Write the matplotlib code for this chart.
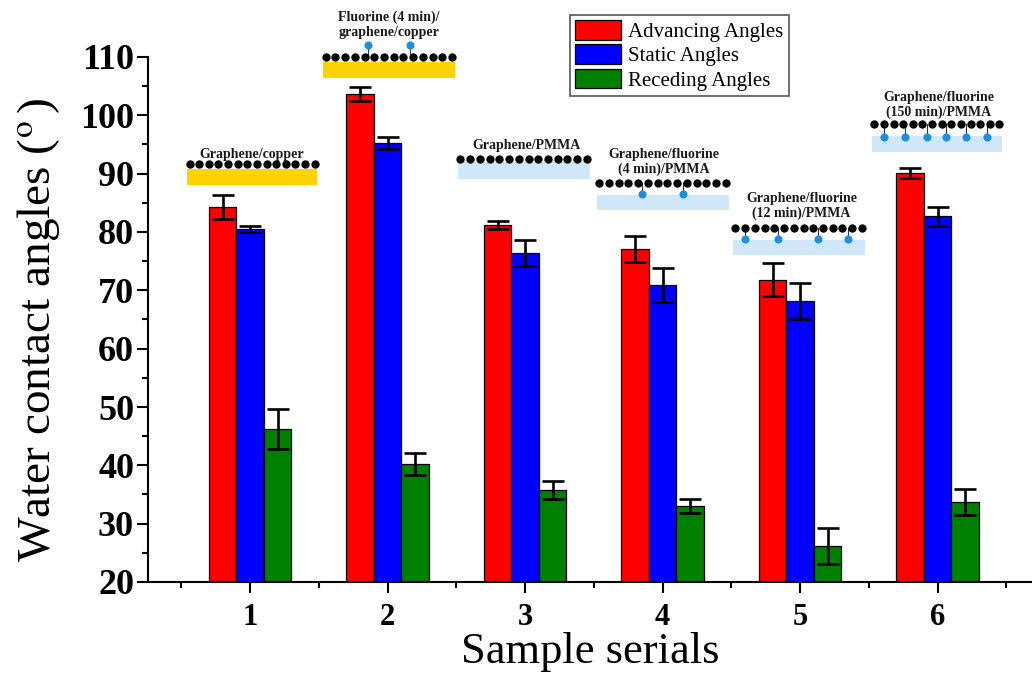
import numpy as np
import matplotlib
matplotlib.use('Agg')
import matplotlib.pyplot as plt
from matplotlib.patches import Rectangle
from matplotlib.ticker import MultipleLocator

plt.rcParams.update({
    "font.family": "serif",
    "font.serif": ["Liberation Serif", "DejaVu Serif"],
    "mathtext.fontset": "stix",
})

# ---- Data ----
samples = [1, 2, 3, 4, 5, 6]
advancing = [84.3, 103.7, 81.2, 77.1, 71.8, 90.1]
advancing_err = [2.0, 1.2, 0.7, 2.2, 2.8, 0.8]
static = [80.5, 95.3, 76.4, 70.9, 68.2, 82.7]
static_err = [0.5, 1.0, 2.2, 2.9, 3.1, 1.6]
receding = [46.2, 40.2, 35.8, 33.0, 26.2, 33.7]
receding_err = [3.4, 1.9, 1.5, 1.2, 3.1, 2.2]
series_labels = ['Advancing Angles', 'Static Angles', 'Receding Angles']

sample_names = ['Graphene/copper',
                'Fluorine (4 min)/\ngraphene/copper',
                'Graphene/PMMA',
                'Graphene/fluorine\n(4 min)/PMMA',
                'Graphene/fluorine\n(12 min)/PMMA',
                'Graphene/fluorine\n(150 min)/PMMA']

# ---- Styles ----
CLR = ['#FF0000', '#0000FF', '#008000']
CLR_CU = '#FFD200'
CLR_PMMA = '#CFE7F8'
CLR_F = '#1E8FDA'
BAR_W = 0.2

# schematic layout per sample: text centre y, dots y, substrate (y0, y1),
# x extent of substrate, fluorine x positions and y, substrate colour
schem = [
    dict(ty=93.3, dy=91.6, sub=(88.1, 90.8), x=(0.54, 1.49), fx=[], fy=None, c=CLR_CU),
    dict(ty=115.55, dy=110.0, sub=(106.4, 109.1), x=(1.53, 2.49), fx=[1.86, 2.16], fy=112.1, c=CLR_CU),
    dict(ty=94.9, dy=92.5, sub=(89.1, 92.0), x=(2.51, 3.47), fx=[], fy=None, c=CLR_PMMA),
    dict(ty=92.0, dy=88.4, sub=(83.8, 86.3), x=(3.52, 4.48), fx=[3.85, 4.15], fy=86.5, c=CLR_PMMA),
    dict(ty=84.4, dy=80.7, sub=(76.1, 78.6), x=(4.51, 5.47), fx=[4.60, 4.84, 5.13, 5.35], fy=78.8, c=CLR_PMMA),
    dict(ty=101.85, dy=98.5, sub=(93.7, 96.5), x=(5.52, 6.47),
         fx=[5.61, 5.76, 5.92, 6.06, 6.21, 6.36], fy=96.3, c=CLR_PMMA),
]

fig = plt.figure(figsize=(10.32, 6.83), dpi=100)
ax = fig.add_axes([148 / 1032, 101 / 683, 884 / 1032, 525 / 683])

x = np.array(samples, dtype=float)
vals = [advancing, static, receding]
errs = [advancing_err, static_err, receding_err]
for i, (v, e) in enumerate(zip(vals, errs)):
    xi = x + (i - 1) * BAR_W
    ax.bar(xi, np.array(v) - 20, BAR_W, bottom=20, color=CLR[i],
           edgecolor='k', linewidth=0.9, label=series_labels[i], zorder=2)
    ax.errorbar(xi, v, yerr=e, fmt='none', ecolor='k', elinewidth=1.9,
                capsize=8, capthick=1.9, zorder=3)

# ---- Schematics above the bars ----
for xc, name, s in zip(samples, sample_names, schem):
    x0, x1 = s['x']
    y0, y1 = s['sub']
    ax.add_patch(Rectangle((x0, y0), x1 - x0, y1 - y0, facecolor=s['c'],
                           edgecolor='none', clip_on=False, zorder=4))
    dx = np.linspace(x0 + 0.02, x1 - 0.02, 14)
    if s['fx']:
        for fx in s['fx']:
            ax.plot([fx, fx], [s['dy'], s['fy']], color='#333333', lw=0.8,
                    clip_on=False, zorder=5)
        ax.scatter(s['fx'], [s['fy']] * len(s['fx']), s=34, color=CLR_F,
                   clip_on=False, zorder=6, linewidths=0)
    ax.scatter(dx, [s['dy']] * len(dx), s=36, color='k',
               clip_on=False, zorder=6, linewidths=0)
    ax.text(xc + 0.01, s['ty'], name, ha='center', va='center',
            fontsize=10, fontweight='bold', color='#1a1a1a',
            linespacing=1.15, clip_on=False, zorder=6)

# ---- Axes ----
ax.set_xlim(0.258, 6.687)
ax.set_ylim(20, 110)
ax.set_xticks(samples)
ax.xaxis.set_minor_locator(MultipleLocator(0.5))
ax.yaxis.set_major_locator(MultipleLocator(10))
ax.yaxis.set_minor_locator(MultipleLocator(5))
for sp in ['top', 'right']:
    ax.spines[sp].set_visible(False)
for sp in ['left', 'bottom']:
    ax.spines[sp].set_linewidth(1.5)

ax.tick_params(axis='both', which='major', direction='out', length=8,
               width=1.5)
ax.tick_params(axis='both', which='minor', direction='out', length=4.5,
               width=1.5)
ax.tick_params(axis='x', which='major', labelsize=22, pad=7)
ax.tick_params(axis='y', which='major', labelsize=26, pad=2)
for lab in ax.get_xticklabels() + ax.get_yticklabels():
    lab.set_fontweight('bold')

ax.set_xlabel('Sample serials', fontsize=32, labelpad=0)
ax.set_ylabel(r'Water contact angles (${}^{\rm o}\,$)', fontsize=34)
ax.yaxis.set_label_coords(-0.097, 0.48)

leg = ax.legend(loc='upper left', bbox_to_anchor=(570 / 1032, 1 - 15 / 683),
                bbox_transform=fig.transFigure, fontsize=15,
                frameon=True, fancybox=False, framealpha=1,
                edgecolor='#555555', borderpad=0.25, labelspacing=0.12,
                handlelength=2.2, handleheight=1.05, handletextpad=0.35,
                borderaxespad=0)
leg.get_frame().set_linewidth(1.2)

fig.savefig('out.png', dpi=100, facecolor='white')
